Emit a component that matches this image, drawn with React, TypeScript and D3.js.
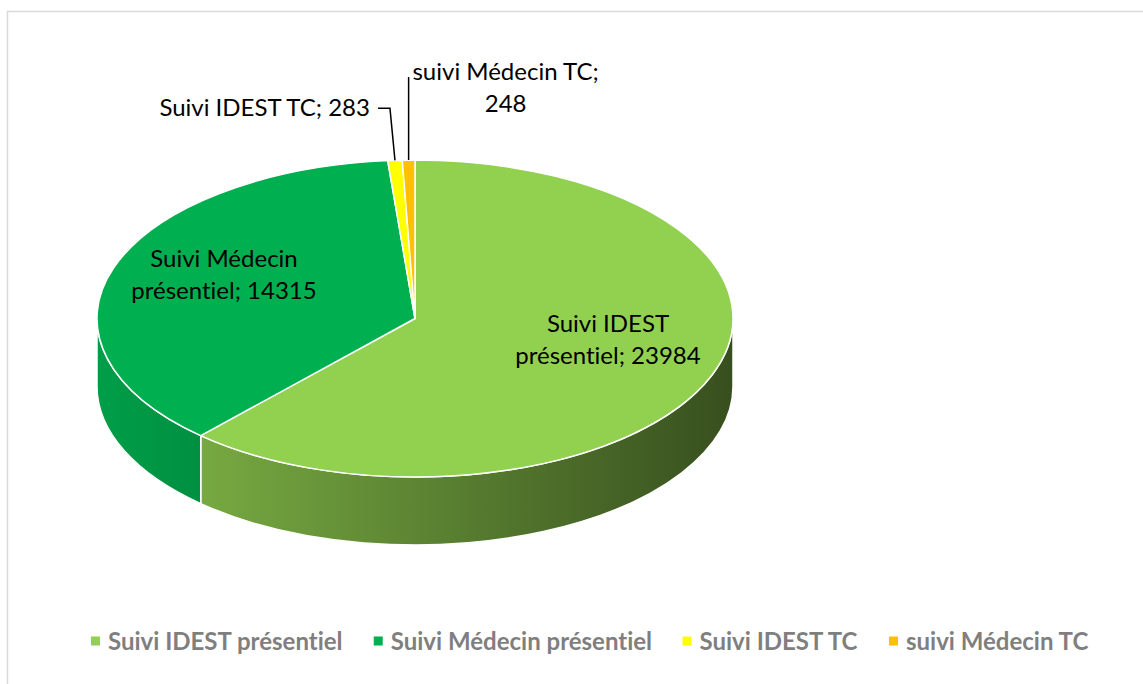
import React, { useMemo } from "react";
import * as d3 from "d3";

const WIDTH = 1143;
const HEIGHT = 684;

const categories = [
  "Suivi IDEST présentiel",
  "Suivi Médecin présentiel",
  "Suivi IDEST TC",
  "suivi Médecin TC",
];
const values = [23984, 14315, 283, 248];
const colors = ["#92D050", "#00B050", "#FFFF00", "#FFC000"];

// projected ellipse of the pie top face
const PIE = { cx: 415, cy: 318.5, rx: 318, ry: 158.5, depth: 68 };
const FONT = "Lato, 'Open Sans', sans-serif";
const LABEL_SIZE = 24;
const LINE_H = 32;
const NO_LIGA = { fontVariantLigatures: "none" as const, fontFeatureSettings: '"liga" 0, "clig" 0' };

// project an angle (clockwise from 12 o'clock) on the ellipse
const pt = (a: number, dy = 0): [number, number] => [
  PIE.cx + PIE.rx * Math.sin(a),
  PIE.cy - PIE.ry * Math.cos(a) + dy,
];

const topPath = (a0: number, a1: number) => {
  const [x0, y0] = pt(a0);
  const [x1, y1] = pt(a1);
  const large = a1 - a0 > Math.PI ? 1 : 0;
  return `M${PIE.cx},${PIE.cy}L${x0},${y0}A${PIE.rx},${PIE.ry} 0 ${large} 1 ${x1},${y1}Z`;
};

// only the front half of the rim is visible
const sidePath = (a0: number, a1: number) => {
  const s = Math.max(a0, Math.PI / 2);
  const e = Math.min(a1, (3 * Math.PI) / 2);
  if (e <= s) return null;
  const [x0, y0] = pt(s);
  const [x1, y1] = pt(e);
  const d = PIE.depth;
  return `M${x0},${y0}A${PIE.rx},${PIE.ry} 0 0 1 ${x1},${y1}L${x1},${y1 + d}A${PIE.rx},${PIE.ry} 0 0 0 ${x0},${y0 + d}Z`;
};

const shade = (c: string, f: number) => {
  const r = d3.rgb(c);
  return d3.rgb(r.r * f, r.g * f, r.b * f).formatHex();
};

const measure = (text: string, font: string) => {
  const ctx = document.createElement("canvas").getContext("2d");
  if (!ctx) return text.length * 11;
  ctx.font = font;
  return ctx.measureText(text).width;
};

export default function App() {
  const arcs = useMemo(
    () =>
      d3
        .pie<number>()
        .sort(null)
        .startAngle(0)
        .endAngle(2 * Math.PI)(values),
    []
  );

  // legend layout, centred under the chart
  const legend = useMemo(() => {
    const font = `bold 24px ${FONT}`;
    const widths = categories.map((c) => measure(c, font));
    const box = 9;
    const gapIn = 8;
    const gapOut = 30;
    const itemW = widths.map((w) => box + gapIn + w);
    const total = d3.sum(itemW) + gapOut * (categories.length - 1);
    let x = 590 - total / 2;
    return categories.map((c, i) => {
      const item = { x, name: c, color: colors[i] };
      x += itemW[i] + gapOut;
      return item;
    });
  }, []);

  const [mid3x, mid3y] = pt((arcs[2].startAngle + arcs[2].endAngle) / 2);
  const [mid4x, mid4y] = pt((arcs[3].startAngle + arcs[3].endAngle) / 2);

  return (
    <svg
      width={WIDTH}
      height={HEIGHT}
      style={{ position: "absolute", left: 0, top: 0, display: "block" }}
    >
      <defs>
        {colors.map((c, i) => (
          <linearGradient
            key={i}
            id={`side-${i}`}
            gradientUnits="userSpaceOnUse"
            x1={PIE.cx - PIE.rx}
            x2={PIE.cx + PIE.rx}
            y1={0}
            y2={0}
          >
            <stop offset="0" stopColor={shade(c, 0.9)} />
            <stop offset="0.5" stopColor={shade(c, 0.64)} />
            <stop offset="1" stopColor={shade(c, 0.38)} />
          </linearGradient>
        ))}
      </defs>
      <rect x={0} y={0} width={WIDTH} height={HEIGHT} fill="#fff" />
      <rect
        x={7.5}
        y={11.5}
        width={WIDTH + 20}
        height={HEIGHT + 20}
        fill="#fff"
        stroke="#D9D9D9"
        strokeWidth={1.5}
      />

      {/* rim */}
      {arcs.map((a, i) => {
        const d = sidePath(a.startAngle, a.endAngle);
        return d ? (
          <path
            key={`s${i}`}
            d={d}
            fill={`url(#side-${i})`}
            stroke="#fff"
            strokeWidth={1.5}
            strokeLinejoin="round"
          />
        ) : null;
      })}

      {/* top face */}
      {arcs.map((a, i) => (
        <path
          key={`t${i}`}
          d={topPath(a.startAngle, a.endAngle)}
          fill={colors[i]}
          stroke="#fff"
          strokeWidth={1.5}
          strokeLinejoin="round"
        />
      ))}

      <g fontFamily={FONT} fontSize={LABEL_SIZE} fill="#000" style={NO_LIGA}>
        <text x={PIE.cx + 193} y={332} textAnchor="middle">
          <tspan x={PIE.cx + 193}>Suivi IDEST</tspan>
          <tspan x={PIE.cx + 193} dy={LINE_H}>
            présentiel; {values[0]}
          </tspan>
        </text>
        <text x={PIE.cx - 191} y={267} textAnchor="middle">
          <tspan x={PIE.cx - 191}>Suivi Médecin</tspan>
          <tspan x={PIE.cx - 191} dy={LINE_H}>
            présentiel; {values[1]}
          </tspan>
        </text>

        {/* leader lines for the thin slices */}
        <polyline
          points={`${mid3x},${mid3y} ${mid3x - 5},${mid3y - 52} ${mid3x - 17},${mid3y - 52}`}
          fill="none"
          stroke="#000"
          strokeWidth={1.5}
        />
        <text x={mid3x - 25} y={mid3y - 44} textAnchor="end">
          {categories[2]}; {values[2]}
        </text>
        <line
          x1={mid4x}
          y1={mid4y}
          x2={mid4x}
          y2={mid4y - 83}
          stroke="#000"
          strokeWidth={1.5}
        />
        <text x={mid4x + 97} y={80} textAnchor="middle">
          <tspan x={mid4x + 97}>{categories[3]};</tspan>
          <tspan x={mid4x + 97} dy={LINE_H}>
            {values[3]}
          </tspan>
        </text>
      </g>

      <g fontFamily={FONT} fontSize={24} fontWeight="bold" fill="#7F7F7F" style={NO_LIGA}>
        {legend.map((l) => (
          <g key={l.name} transform={`translate(${l.x},641)`}>
            <rect x={0} y={-4.5} width={9} height={9} fill={l.color} />
            <text x={17} y={8.5}>
              {l.name}
            </text>
          </g>
        ))}
      </g>
    </svg>
  );
}
